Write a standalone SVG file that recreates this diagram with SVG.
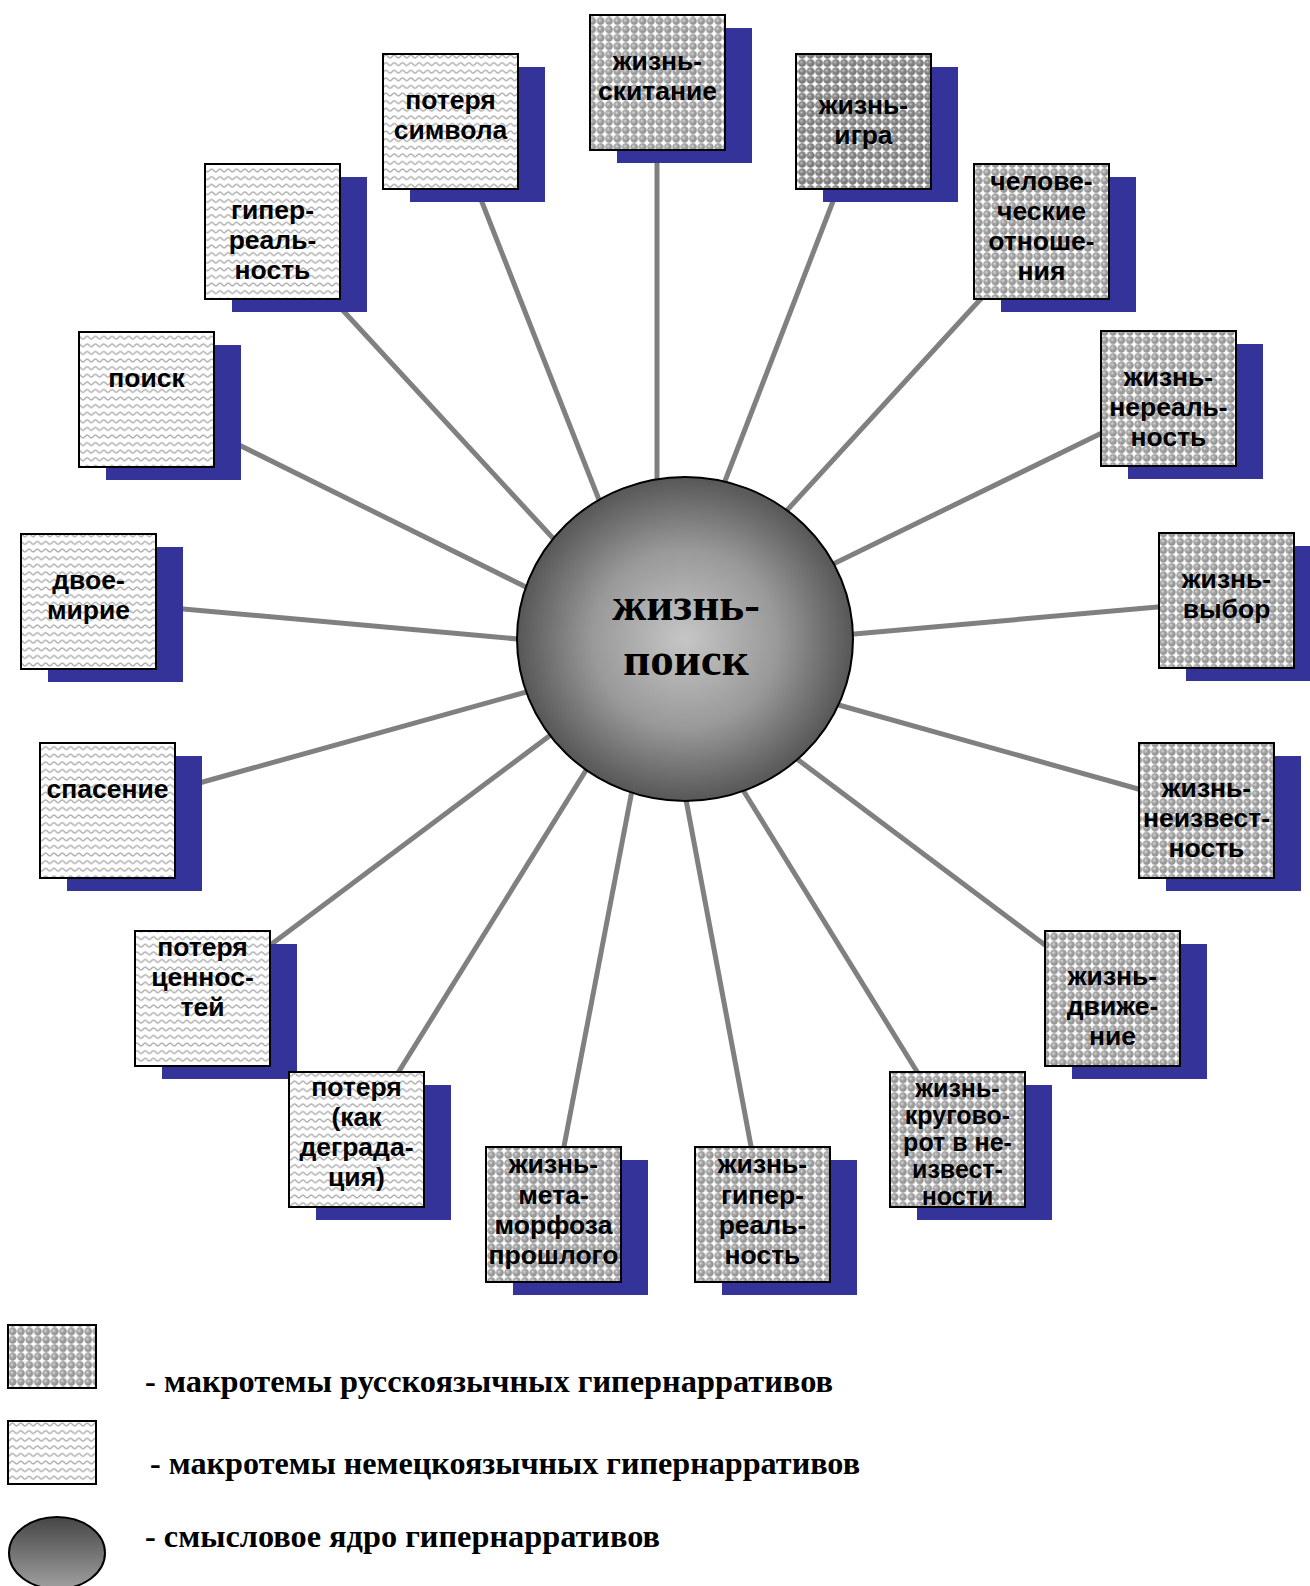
<svg xmlns="http://www.w3.org/2000/svg" width="1310" height="1586" viewBox="0 0 1310 1586">
<style>
.sh{fill:#333399}
.bx{stroke:#000;stroke-width:2}
.ck{fill:url(#sph)}
.ckd{fill:url(#sphd)}
.wv{fill:url(#wav)}
.t{font-family:"Liberation Sans",Arial,sans-serif;font-weight:bold;font-size:26.5px;text-anchor:middle;fill:#000}
.t.s{font-size:25px}
.ct{font-family:"Liberation Serif","Times New Roman",serif;font-weight:bold;font-size:47px;text-anchor:middle;fill:#000}
.lg{font-family:"Liberation Serif","Times New Roman",serif;font-weight:bold;font-size:32px;fill:#000}
.cn line{stroke:#808080;stroke-width:5}
</style>
<defs>
<radialGradient id="ball" cx="40%" cy="40%" r="60%">
<stop offset="0" stop-color="#e4e4e4"/>
<stop offset="0.35" stop-color="#a8a8a8"/>
<stop offset="1" stop-color="#8c8c8c"/>
</radialGradient>
<radialGradient id="balld" cx="40%" cy="40%" r="60%">
<stop offset="0" stop-color="#cfcfcf"/>
<stop offset="0.35" stop-color="#8c8c8c"/>
<stop offset="1" stop-color="#707070"/>
</radialGradient>
<pattern id="sph" width="8.4" height="8.4" patternUnits="userSpaceOnUse">
<rect width="8.4" height="8.4" fill="#fff"/>
<circle cx="4.2" cy="4.2" r="3.9" fill="url(#ball)"/>
</pattern>
<pattern id="sphd" width="8.4" height="8.4" patternUnits="userSpaceOnUse">
<rect width="8.4" height="8.4" fill="#fff"/>
<circle cx="4.2" cy="4.2" r="4" fill="url(#balld)"/>
</pattern>
<pattern id="wav" width="8.3" height="7.6" patternUnits="userSpaceOnUse">
<rect width="8.3" height="7.6" fill="#fff"/>
<path d="M0,4.8 C1.6,4.8 2.5,1.8 4.15,1.8 C5.8,1.8 6.7,4.8 8.3,4.8" fill="none" stroke="#ababab" stroke-width="1.4"/>
</pattern>
<radialGradient id="core" cx="50%" cy="50%" r="50%">
<stop offset="0" stop-color="#c6c6c6"/>
<stop offset="0.55" stop-color="#999"/>
<stop offset="1" stop-color="#575757"/>
</radialGradient>
<linearGradient id="lgcore" x1="0" y1="0" x2="0" y2="1">
<stop offset="0" stop-color="#464646"/>
<stop offset="1" stop-color="#a0a0a0"/>
</linearGradient>
</defs>
<rect width="1310" height="1586" fill="#fff"/>

<g id="connectors" class="cn">
<line x1="657" y1="145" x2="657" y2="495"/>
<line x1="478" y1="192" x2="603" y2="510"/>
<line x1="837" y1="191" x2="720" y2="494"/>
<line x1="337" y1="304" x2="562" y2="548"/>
<line x1="988" y1="291" x2="779" y2="519"/>
<line x1="231" y1="441" x2="536" y2="592"/>
<line x1="1110" y1="429" x2="825" y2="568"/>
<line x1="172" y1="608" x2="529" y2="640"/>
<line x1="1169" y1="606" x2="843" y2="635"/>
<line x1="192" y1="785" x2="537" y2="689"/>
<line x1="1149" y1="792" x2="828" y2="702"/>
<line x1="265" y1="949" x2="560" y2="728"/>
<line x1="1053" y1="951" x2="789" y2="753"/>
<line x1="393" y1="1081" x2="593" y2="759"/>
<line x1="924" y1="1083" x2="738" y2="782"/>
<line x1="562" y1="1157" x2="634" y2="780"/>
<line x1="753" y1="1157" x2="684" y2="789"/>
</g>

<g id="core-node">
<ellipse cx="685" cy="639" rx="168" ry="162" fill="url(#core)" stroke="#000" stroke-width="2"/>
<text class="ct" x="686" y="620">жизнь-</text>
<text class="ct" x="686" y="675">поиск</text>
</g>

<g id="n01">
<rect class="sh" x="617" y="28" width="135" height="135"/>
<rect class="bx ck" x="590" y="15" width="135" height="135"/>
<text class="t" x="657.5" y="70">жизнь-</text>
<text class="t" x="657.5" y="100">скитание</text>
</g>
<g id="n02">
<rect class="sh" x="410" y="67" width="135" height="135"/>
<rect class="bx wv" x="383" y="54" width="135" height="135"/>
<text class="t" x="450.5" y="109">потеря</text>
<text class="t" x="450.5" y="139">символа</text>
</g>
<g id="n03">
<rect class="sh" x="823" y="67" width="135" height="135"/>
<rect class="bx ckd" x="796" y="54" width="135" height="135"/>
<text class="t" x="863.5" y="114">жизнь-</text>
<text class="t" x="863.5" y="144">игра</text>
</g>
<g id="n04">
<rect class="sh" x="232" y="177" width="135" height="135"/>
<rect class="bx wv" x="205" y="164" width="135" height="135"/>
<text class="t" x="272.5" y="219">гипер-</text>
<text class="t" x="272.5" y="249">реаль-</text>
<text class="t" x="272.5" y="279">ность</text>
</g>
<g id="n05">
<rect class="sh" x="1001" y="177" width="135" height="135"/>
<rect class="bx ck" x="974" y="164" width="135" height="135"/>
<text class="t" x="1041.5" y="190">челове-</text>
<text class="t" x="1041.5" y="220">ческие</text>
<text class="t" x="1041.5" y="250">отноше-</text>
<text class="t" x="1041.5" y="280">ния</text>
</g>
<g id="n06">
<rect class="sh" x="106" y="345" width="135" height="135"/>
<rect class="bx wv" x="79" y="332" width="135" height="135"/>
<text class="t" x="146.5" y="387">поиск</text>
</g>
<g id="n07">
<rect class="sh" x="1128" y="344" width="135" height="135"/>
<rect class="bx ck" x="1101" y="331" width="135" height="135"/>
<text class="t" x="1168.5" y="386">жизнь-</text>
<text class="t" x="1168.5" y="416">нереаль-</text>
<text class="t" x="1168.5" y="446">ность</text>
</g>
<g id="n08">
<rect class="sh" x="48" y="547" width="135" height="135"/>
<rect class="bx wv" x="21" y="534" width="135" height="135"/>
<text class="t" x="88.5" y="589">двое-</text>
<text class="t" x="88.5" y="619">мирие</text>
</g>
<g id="n09">
<rect class="sh" x="1186" y="546" width="135" height="135"/>
<rect class="bx ck" x="1159" y="533" width="135" height="135"/>
<text class="t" x="1226.5" y="588">жизнь-</text>
<text class="t" x="1226.5" y="618">выбор</text>
</g>
<g id="n10">
<rect class="sh" x="67" y="756" width="135" height="135"/>
<rect class="bx wv" x="40" y="743" width="135" height="135"/>
<text class="t" x="107.5" y="798">спасение</text>
</g>
<g id="n11">
<rect class="sh" x="1166" y="756" width="135" height="135"/>
<rect class="bx ck" x="1139" y="743" width="135" height="135"/>
<text class="t" x="1206.5" y="797">жизнь-</text>
<text class="t" x="1206.5" y="827">неизвест-</text>
<text class="t" x="1206.5" y="857">ность</text>
</g>
<g id="n12">
<rect class="sh" x="162" y="944" width="135" height="135"/>
<rect class="bx wv" x="135" y="931" width="135" height="135"/>
<text class="t" x="202.5" y="956">потеря</text>
<text class="t" x="202.5" y="986">ценнос-</text>
<text class="t" x="202.5" y="1016">тей</text>
</g>
<g id="n13">
<rect class="sh" x="1072" y="944" width="135" height="135"/>
<rect class="bx ck" x="1045" y="931" width="135" height="135"/>
<text class="t" x="1112.5" y="985">жизнь-</text>
<text class="t" x="1112.5" y="1015">движе-</text>
<text class="t" x="1112.5" y="1045">ние</text>
</g>
<g id="n14">
<rect class="sh" x="316" y="1085" width="135" height="135"/>
<rect class="bx wv" x="289" y="1072" width="135" height="135"/>
<text class="t" x="356.5" y="1096">потеря</text>
<text class="t" x="356.5" y="1126">(как</text>
<text class="t" x="356.5" y="1156">деграда-</text>
<text class="t" x="356.5" y="1186">ция)</text>
</g>
<g id="n15">
<rect class="sh" x="917" y="1085" width="135" height="135"/>
<rect class="bx ck" x="890" y="1072" width="135" height="135"/>
<text class="t s" x="957.5" y="1097">жизнь-</text>
<text class="t s" x="957.5" y="1124">кругово-</text>
<text class="t s" x="957.5" y="1151">рот в не-</text>
<text class="t s" x="957.5" y="1178">извест-</text>
<text class="t s" x="957.5" y="1205">ности</text>
</g>
<g id="n16">
<rect class="sh" x="513" y="1160" width="135" height="135"/>
<rect class="bx ck" x="486" y="1147" width="135" height="135"/>
<text class="t" x="553.5" y="1173">жизнь-</text>
<text class="t" x="553.5" y="1204">мета-</text>
<text class="t" x="553.5" y="1234">морфоза</text>
<text class="t" x="553.5" y="1264">прошлого</text>
</g>
<g id="n17">
<rect class="sh" x="722" y="1160" width="135" height="135"/>
<rect class="bx ck" x="695" y="1147" width="135" height="135"/>
<text class="t" x="762.5" y="1173">жизнь-</text>
<text class="t" x="762.5" y="1204">гипер-</text>
<text class="t" x="762.5" y="1234">реаль-</text>
<text class="t" x="762.5" y="1264">ность</text>
</g>

<g id="legend">
<rect class="bx ck" x="8" y="1325" width="88" height="63"/>
<text class="lg" x="145" y="1392" textLength="688" lengthAdjust="spacingAndGlyphs">- макротемы русскоязычных гипернарративов</text>
<rect class="bx wv" x="8" y="1421" width="88" height="63"/>
<text class="lg" x="150" y="1474" textLength="710" lengthAdjust="spacingAndGlyphs">- макротемы немецкоязычных гипернарративов</text>
<ellipse cx="57" cy="1553" rx="48" ry="36" fill="url(#lgcore)" stroke="#000" stroke-width="2"/>
<text class="lg" x="145" y="1547" textLength="515" lengthAdjust="spacingAndGlyphs">- смысловое ядро гипернарративов</text>
</g>
</svg>
